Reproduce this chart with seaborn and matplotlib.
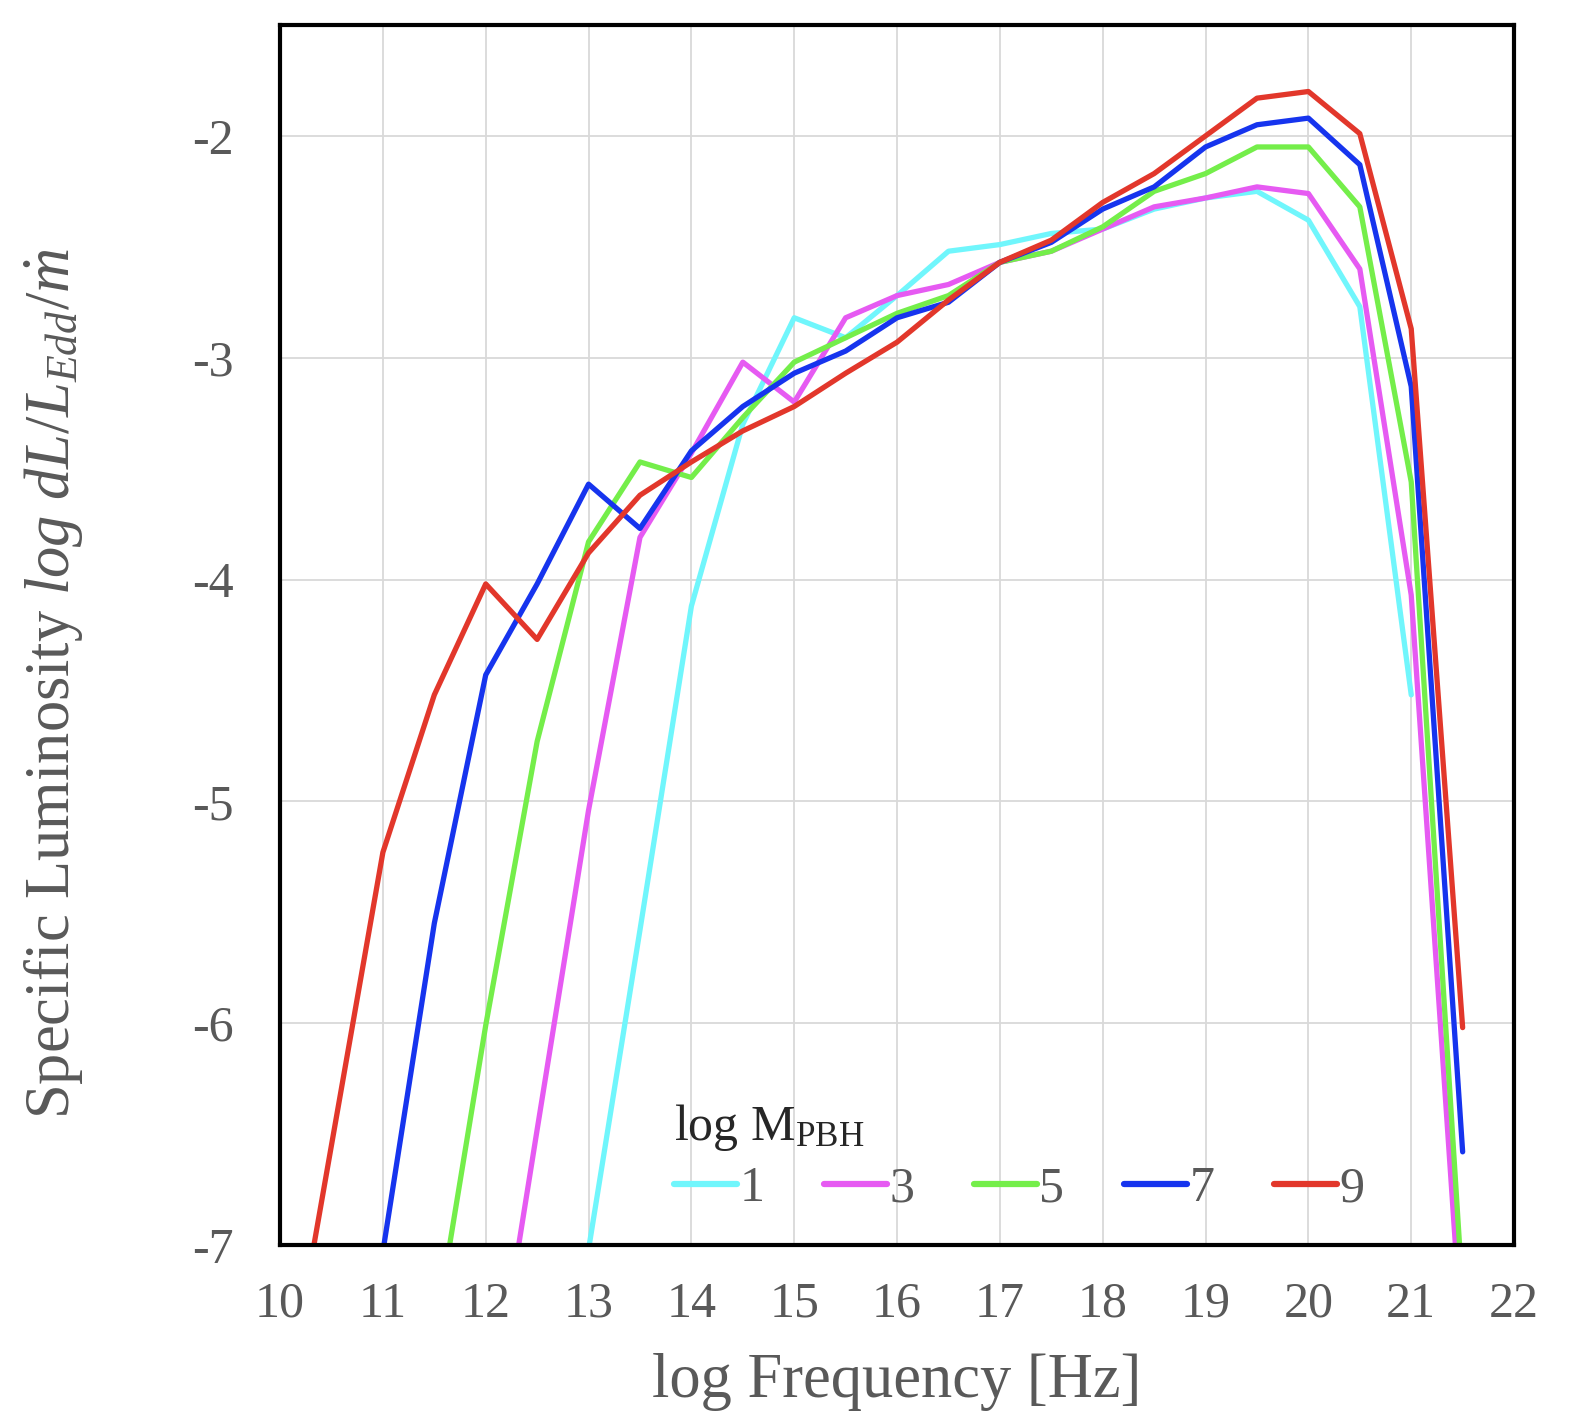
"""
Specific luminosity spectra for several PBH masses
"""

import numpy as np
import pandas as pd
import matplotlib
matplotlib.use("Agg")
import matplotlib.pyplot as plt
import seaborn as sns

# log frequency grid (Hz)
log_freq = [10.0, 10.5, 11.0, 11.5, 12.0, 12.5, 13.0, 13.5, 14.0, 14.5, 15.0, 15.5,
            16.0, 16.5, 17.0, 17.5, 18.0, 18.5, 19.0, 19.5, 20.0, 20.5, 21.0, 21.5]

nan = np.nan
lum_m1 = [nan, nan, nan, nan, nan, nan, -7.02, -5.58, -4.12, -3.30, -2.82, -2.91,
          -2.72, -2.52, -2.49, -2.44, -2.42, -2.33, -2.28, -2.25, -2.38, -2.77, -4.52, nan]
lum_m3 = [nan, nan, nan, nan, -7.93, -6.48, -5.04, -3.81, -3.43, -3.02, -3.20, -2.82,
          -2.72, -2.67, -2.57, -2.52, -2.42, -2.32, -2.28, -2.23, -2.26, -2.60, -4.07, -7.48]
lum_m5 = [nan, nan, nan, -7.42, -6.01, -4.73, -3.83, -3.47, -3.54, -3.27, -3.02, -2.91,
          -2.80, -2.72, -2.57, -2.52, -2.41, -2.25, -2.17, -2.05, -2.05, -2.32, -3.56, -7.22]
lum_m7 = [nan, -9.00, -7.03, -5.55, -4.43, -4.02, -3.57, -3.77, -3.42, -3.22, -3.07, -2.97,
          -2.82, -2.75, -2.57, -2.48, -2.33, -2.23, -2.05, -1.95, -1.92, -2.13, -3.13, -6.58]
lum_m9 = [-7.87, -6.55, -5.23, -4.52, -4.02, -4.27, -3.88, -3.62, -3.47, -3.33, -3.22, -3.07,
          -2.93, -2.74, -2.57, -2.47, -2.30, -2.17, -2.00, -1.83, -1.80, -1.99, -2.87, -6.02]

mass_labels = ["1", "3", "5", "7", "9"]
series = [lum_m1, lum_m3, lum_m5, lum_m7, lum_m9]
colors = ["#70F6FC", "#E65AF2", "#74EE4A", "#1634EE", "#E2372B"]

x_ticks = list(range(10, 23))
y_ticks = [-7, -6, -5, -4, -3, -2]

frames = []
for lab, vals in zip(mass_labels, series):
    frames.append(pd.DataFrame({"logf": log_freq, "lum": vals, "mass": lab}))
df = pd.concat(frames, ignore_index=True).dropna()

sns.set_style("white")
plt.rcParams["font.family"] = ["Liberation Serif", "DejaVu Serif"]
plt.rcParams["mathtext.fontset"] = "custom"
plt.rcParams["mathtext.rm"] = "Liberation Serif"
plt.rcParams["mathtext.it"] = "Liberation Serif:italic"
plt.rcParams["mathtext.bf"] = "Liberation Serif:bold"
plt.rcParams["axes.unicode_minus"] = False

gray = "#595959"

fig = plt.figure(figsize=(15.76, 14.18), dpi=100)
ax = fig.add_axes([0.1777, 0.122, 0.783, 0.8604])

sns.lineplot(data=df, x="logf", y="lum", hue="mass", hue_order=mass_labels,
             palette=colors, linewidth=3.8, estimator=None, sort=True, ax=ax,
             legend=True)

ax.set_xlim(10, 22)
ax.set_ylim(-7, -1.5)
ax.set_xticks(x_ticks)
ax.set_yticks(y_ticks)
ax.grid(True, color="#d9d9d9", linewidth=1.3)
ax.set_axisbelow(True)
ax.tick_params(length=0, labelsize=36, labelcolor=gray)
ax.tick_params(axis="y", pad=33)
ax.tick_params(axis="x", pad=26)
for s in ax.spines.values():
    s.set_color("black")
    s.set_linewidth(3.0)

ax.set_xlabel("log Frequency [Hz]", fontsize=45, color=gray, labelpad=18)
ax.set_ylabel("Specific Luminosity " + r"$log\ dL/L_{Edd}/\dot{m}$",
              fontsize=45, color=gray)
ax.yaxis.set_label_coords(-0.158, 0.46)

leg = ax.legend(title=r"log M$_{\mathrm{PBH}}$", ncol=5, loc="lower left",
                bbox_to_anchor=(0.283, -0.01), frameon=False, fontsize=36,
                title_fontsize=36, handlelength=1.25, handletextpad=0.05,
                columnspacing=1.2, labelspacing=0.25, alignment="left")
for t in leg.get_texts():
    t.set_color(gray)
for h in leg.get_lines():
    h.set_linewidth(4.5)
    h.set_solid_capstyle("round")

fig.savefig("out.png", dpi=100)
